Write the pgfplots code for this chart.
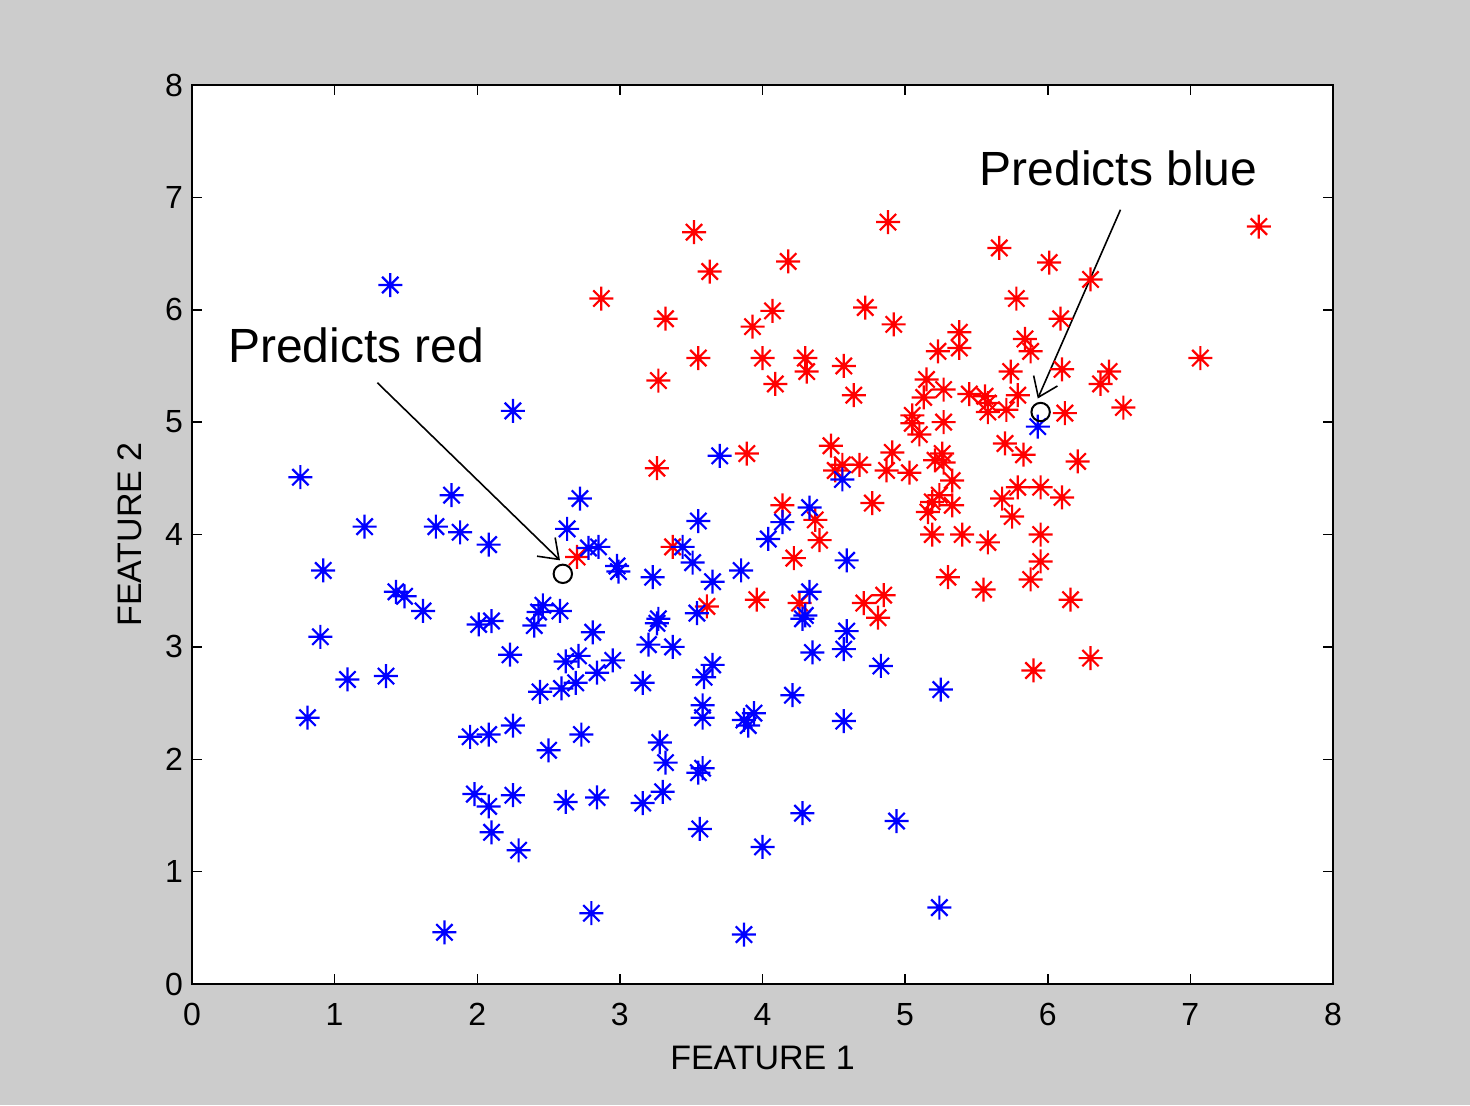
\documentclass[border=0pt]{standalone}
\usepackage{fontspec}
\setmainfont{Liberation Sans}
\usepackage{pgfplots}
\pgfplotsset{compat=1.18}
\usetikzlibrary{arrows.meta}

\definecolor{bggray}{RGB}{204,204,204}

% MATLAB-style asterisk: a plus with a shorter cross over it
\pgfdeclareplotmark{mstar}{%
  \pgfpathmoveto{\pgfqpoint{-\pgfplotmarksize}{0pt}}%
  \pgfpathlineto{\pgfqpoint{\pgfplotmarksize}{0pt}}%
  \pgfpathmoveto{\pgfqpoint{0pt}{-\pgfplotmarksize}}%
  \pgfpathlineto{\pgfqpoint{0pt}{\pgfplotmarksize}}%
  \pgfpathmoveto{\pgfqpoint{-0.68\pgfplotmarksize}{-0.68\pgfplotmarksize}}%
  \pgfpathlineto{\pgfqpoint{0.68\pgfplotmarksize}{0.68\pgfplotmarksize}}%
  \pgfpathmoveto{\pgfqpoint{-0.68\pgfplotmarksize}{0.68\pgfplotmarksize}}%
  \pgfpathlineto{\pgfqpoint{0.68\pgfplotmarksize}{-0.68\pgfplotmarksize}}%
  \pgfusepathqstroke}

\pgfplotstableread{
x y
3.52 6.69
4.88 6.78
3.63 6.34
4.18 6.43
2.87 6.10
3.32 5.92
4.07 5.99
3.93 5.85
4.72 6.02
4.92 5.87
3.55 5.57
4.00 5.57
4.30 5.57
4.31 5.45
4.57 5.50
5.23 5.63
3.27 5.37
4.09 5.34
7.48 6.74
5.66 6.55
6.01 6.42
6.30 6.27
5.78 6.10
6.09 5.92
5.38 5.80
5.38 5.66
5.84 5.74
5.88 5.63
5.74 5.45
6.10 5.47
6.43 5.45
6.37 5.34
7.07 5.57
6.53 5.13
6.12 5.08
5.45 5.25
5.56 5.23
5.58 5.17
5.58 5.09
5.71 5.11
5.79 5.24
5.15 5.38
5.27 5.29
5.13 5.22
5.05 5.06
5.05 4.99
5.10 4.89
5.27 5.00
5.70 4.81
5.83 4.71
6.21 4.65
4.91 4.73
5.26 4.72
5.21 4.66
5.27 4.64
5.03 4.55
5.33 4.48
4.87 4.57
5.24 4.35
5.19 4.29
5.33 4.26
5.16 4.20
5.79 4.42
5.95 4.42
6.10 4.33
5.68 4.32
5.75 4.16
5.19 4.00
5.40 4.00
5.58 3.93
5.95 4.00
5.95 3.76
5.88 3.60
5.30 3.62
5.55 3.51
6.16 3.42
6.30 2.90
5.90 2.79
4.64 5.24
4.48 4.79
4.51 4.57
4.56 4.62
4.68 4.62
3.89 4.72
3.26 4.59
4.77 4.28
4.14 4.26
4.37 4.13
4.40 3.95
4.22 3.79
3.37 3.89
2.70 3.80
3.96 3.42
4.26 3.39
4.71 3.39
4.85 3.46
4.81 3.26
3.61 3.36
}\redpts

\pgfplotstableread{
x y
1.39 6.22
2.25 5.10
0.76 4.51
1.82 4.35
1.21 4.07
1.71 4.07
1.88 4.02
2.08 3.91
2.72 4.32
2.63 4.05
0.92 3.68
1.43 3.49
1.49 3.45
1.62 3.32
0.90 3.09
1.09 2.71
1.36 2.74
0.81 2.37
1.77 0.46
2.80 0.63
3.70 4.70
3.55 4.12
4.56 4.49
4.33 4.24
4.14 4.11
4.04 3.96
3.85 3.68
4.59 3.77
3.65 3.58
3.44 3.89
3.51 3.75
3.23 3.62
2.78 3.88
2.85 3.89
2.98 3.72
2.99 3.67
2.58 3.32
2.46 3.37
2.43 3.31
2.40 3.19
2.01 3.20
2.10 3.23
2.23 2.93
2.81 3.13
2.62 2.87
2.71 2.92
2.95 2.88
2.84 2.77
2.69 2.68
2.59 2.63
2.44 2.60
3.27 3.25
3.26 3.21
3.20 3.02
3.37 3.00
3.54 3.30
3.59 2.73
3.65 2.84
3.16 2.68
3.58 2.48
3.58 2.37
3.94 2.41
3.90 2.30
3.87 2.35
4.21 2.57
4.28 3.25
4.30 3.28
4.33 3.49
4.35 2.95
4.59 3.14
4.57 2.98
4.83 2.83
4.57 2.34
5.25 2.62
2.25 2.30
1.95 2.20
2.08 2.22
2.50 2.08
2.73 2.22
3.28 2.15
3.32 1.97
3.58 1.92
3.55 1.88
1.98 1.69
2.08 1.58
2.25 1.68
2.62 1.62
2.84 1.66
3.16 1.61
3.30 1.71
2.10 1.35
2.29 1.19
3.56 1.38
4.28 1.52
4.00 1.22
4.94 1.45
3.87 0.44
5.24 0.68
5.93 4.96
}\bluepts

\begin{document}
\begin{tikzpicture}[x=1pt,y=1pt]
\fill[bggray] (0,0) rectangle (735,552.5);
\path[use as bounding box] (0,0) rectangle (735,552.5);
\begin{axis}[
    at={(96pt,60.5pt)}, anchor=south west,
    scale only axis, width=570.5pt, height=449.5pt,
    xmin=0, xmax=8, ymin=0, ymax=8,
    xtick={0,1,...,8}, ytick={0,1,...,8},
    tick align=inside, major tick length=5pt,
    axis line style={line width=0.75pt},
    every tick/.style={black, line width=0.75pt},
    axis background/.style={fill=white},
    /pgf/number format/assume math mode=true,
    tick label style={font=\fontsize{16}{19}\selectfont},
    xticklabel style={yshift=-6pt},
    yticklabel style={xshift=-1pt},
    label style={font=\fontsize{17}{20}\selectfont},
    xlabel={FEATURE 1}, ylabel={FEATURE 2},
    xlabel style={at={(axis description cs:0.5,-0.0823)}, anchor=center},
    ylabel style={at={(axis description cs:-0.0543,0.5)}, anchor=center},
    clip=false,
]
\addplot[only marks, mark=mstar, mark size=6pt, red, line width=1.1pt] table {\redpts};
\addplot[only marks, mark=mstar, mark size=6pt, blue, line width=1.1pt] table {\bluepts};
\addplot[only marks, mark=o, mark size=4.6pt, black, line width=1pt] coordinates {(2.60,3.65) (5.95,5.09)};

\draw[line width=0.8pt, -{Straight Barb[length=9pt,width=13pt,line width=0.8pt]}] (axis cs:1.30,5.35) -- (axis cs:2.58,3.77);
\draw[line width=0.8pt, -{Straight Barb[length=9pt,width=13pt,line width=0.8pt]}] (axis cs:6.51,6.89) -- (axis cs:5.93,5.21);
\node[anchor=base west, inner sep=0pt, font=\fontsize{24}{28}\selectfont] at (axis cs:0.25,5.53) {Predicts red};
\node[anchor=base west, inner sep=0pt, font=\fontsize{24}{28}\selectfont] at (axis cs:5.52,7.11) {Predicts blue};
\end{axis}
\end{tikzpicture}
\end{document}
